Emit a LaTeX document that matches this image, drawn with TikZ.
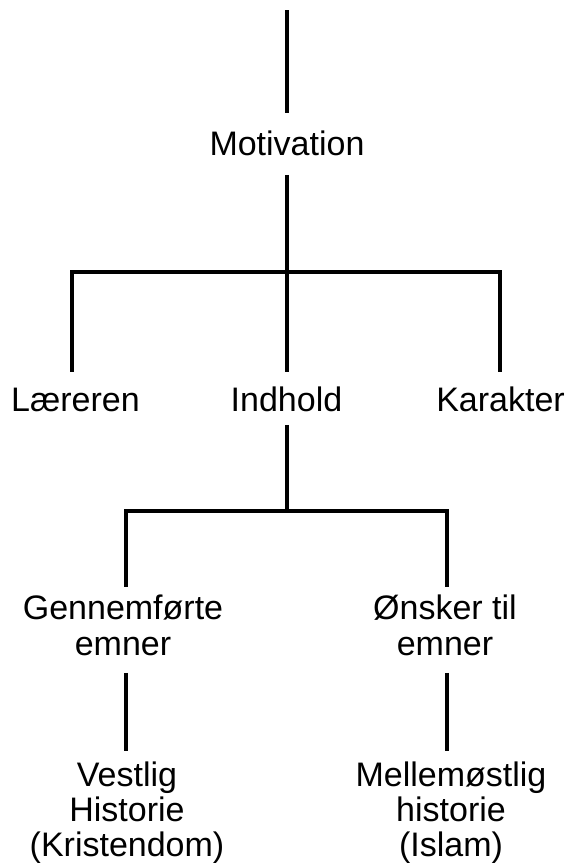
\documentclass[tikz,border=0pt]{standalone}
\usepackage{fontspec}
\setmainfont{Liberation Sans}
\newcommand\mlines[1]{\begin{tabular}[t]{@{}c@{}}#1\end{tabular}}
\begin{document}
\begin{tikzpicture}[x=1pt,y=-1pt,
  lbl/.style={inner sep=0pt, outer sep=0pt, anchor=base, font=\fontsize{34}{36}\selectfont},
  lblb/.style={lbl, font=\fontsize{34}{35}\selectfont},
  conn/.style={line width=3.6pt}]
\useasboundingbox (0,0) rectangle (569,863);
% nodes
\node[lbl] (motiv) at (287,155) {\mlines{Motivation}};
\node[lbl] (laer) at (75.5,411) {\mlines{Læreren}};
\node[lbl] (indh) at (286.5,411) {\mlines{Indhold}};
\node[lbl] (kar) at (500.5,411) {\mlines{Karakter}};
\node[lbl] (genn) at (123,619) {\mlines{Gennemførte\\emner}};
\node[lbl] (onsk) at (445,619) {\mlines{Ønsker til\\emner}};
\node[lblb] (vest) at (127,786) {\mlines{Vestlig\\Historie\\(Kristendom)}};
\node[lblb] (mell) at (451,786) {\mlines{Mellemøstlig\\historie\\(Islam)}};
% bus coordinates
\coordinate (top) at (287,10);
\coordinate (b1l) at (72,272);
\coordinate (b1r) at (500,272);
\coordinate (b2l) at (126,511);
\coordinate (b2m) at (287,511);
\coordinate (b2r) at (447,511);
% connectors
\draw[conn, shorten >=17pt] (top) -- (top |- motiv.north);
\draw[conn, shorten <=9pt, shorten >=14pt] (motiv.south -| top) -- (top |- indh.north);
\draw[conn, shorten <=14pt, shorten >=14pt] (b1l |- laer.north) -- (b1l) -- (b1r) -- (b1r |- kar.north);
\draw[conn, shorten <=3pt] (indh.south -| b2m) -- (b2m);
\draw[conn, shorten <=7pt, shorten >=7pt] (b2l |- genn.north) -- (b2l) -- (b2r) -- (b2r |- onsk.north);
\draw[conn, shorten <=7pt, shorten >=10.5pt] (genn.south -| b2l) -- (b2l |- vest.north);
\draw[conn, shorten <=7pt, shorten >=10.5pt] (onsk.south -| b2r) -- (b2r |- mell.north);
\end{tikzpicture}
\end{document}
